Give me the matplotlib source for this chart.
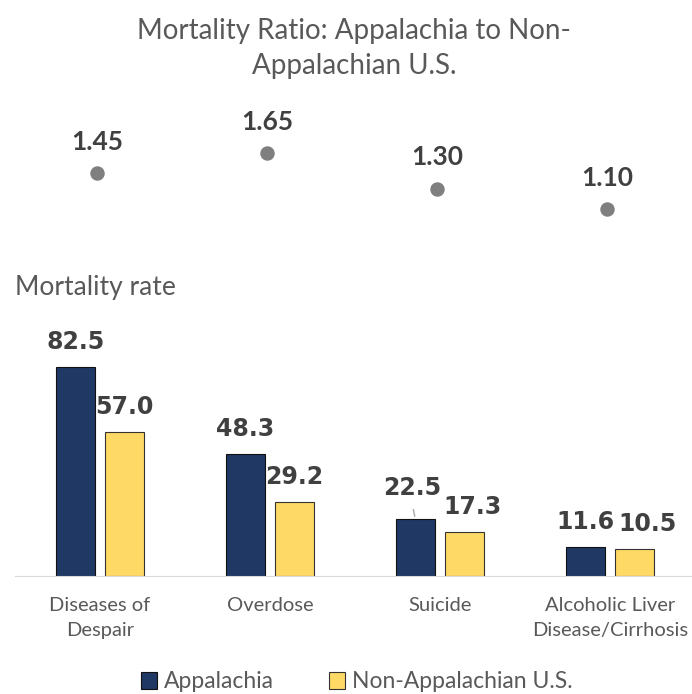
import matplotlib
matplotlib.use("Agg")
import matplotlib.pyplot as plt
import numpy as np

categories = ["Diseases of\nDespair", "Overdose", "Suicide", "Alcoholic Liver\nDisease/Cirrhosis"]
ratio = [1.45, 1.65, 1.30, 1.10]
appalachia = [82.5, 48.3, 22.5, 11.6]
non_appalachia = [57.0, 29.2, 17.3, 10.5]

navy = "#203864"
yellow = "#FFD966"
grey_txt = "#595959"
dark_txt = "#404040"

plt.rcParams["font.family"] = ["Lato", "DejaVu Sans"]

fig = plt.figure(figsize=(6.92, 6.94), dpi=100)
x = np.arange(len(categories))

# ratio dots
ax1 = fig.add_axes([12 / 692, 0.655, 680 / 692, 0.2053])
ax1.scatter(x, ratio, s=88, color="#7F7F7F", zorder=3)
for xi, r in zip(x, ratio):
    ax1.annotate(f"{r:.2f}", (xi, r), xytext=(0, 16.6), textcoords="offset points",
                 ha="center", va="baseline", fontsize=19, fontweight="bold", color=dark_txt)
ax1.set_xlim(-0.5, 3.5)
ax1.set_ylim(0.8, 2.2)
ax1.axis("off")

fig.text(354 / 692, 1 - 39 / 694, "Mortality Ratio: Appalachia to Non-",
         ha="center", va="baseline", fontsize=20, color=grey_txt)
fig.text(354 / 692, 1 - 74 / 694, "Appalachian U.S.",
         ha="center", va="baseline", fontsize=20, color=grey_txt)

# bars
ax2 = fig.add_axes([15 / 692, 1 - 576 / 694, 680 / 692, 253.3 / 694])
w = 0.23
b1 = ax2.bar(x - 0.145, appalachia, w, color=navy, edgecolor="#111111", linewidth=0.8, label="Appalachia")
b2 = ax2.bar(x + 0.145, non_appalachia, w, color=yellow, edgecolor="#333333", linewidth=0.8,
             label="Non-Appalachian U.S.")

# label nudges in points (dx, dy) to mimic manual placement
nudge1 = [(0, 13), (0, 13), (-2, 17), (0, 13)]
nudge2 = [(0, 13), (0, 13), (6, 13), (9, 13)]
for bars, nudges in ((b1, nudge1), (b2, nudge2)):
    for rect, (dx, dy) in zip(bars, nudges):
        h = rect.get_height()
        ax2.annotate(f"{h:.1f}", (rect.get_x() + rect.get_width() / 2, h), xytext=(dx, dy),
                     textcoords="offset points", ha="center", va="baseline",
                     fontsize=17, fontweight="bold", color=dark_txt, family="DejaVu Sans")

# leader line for the suicide label
r = b1[2]
ax2.annotate("", (r.get_x() + r.get_width() / 2, r.get_height()),
             xytext=(r.get_x() + r.get_width() / 2 - 0.015, r.get_height() + 4.8),
             arrowprops=dict(arrowstyle="-", color="#A6A6A6", lw=1))

ax2.set_xlim(-0.5, 3.5)
ax2.set_ylim(0, 100)
for s in ["top", "right", "left"]:
    ax2.spines[s].set_visible(False)
ax2.spines["bottom"].set_color("#D9D9D9")
ax2.set_yticks([])
ax2.set_xticks(x)
ax2.set_xticklabels(categories, fontsize=14.5, color=grey_txt, linespacing=1.6)
ax2.tick_params(axis="x", length=0, pad=15)

fig.text(15 / 692, 1 - 295 / 694, "Mortality rate", ha="left", va="baseline", fontsize=19, color=grey_txt)

fig.legend(handles=[b1, b2], loc="center", bbox_to_anchor=(357 / 692, 1 - 682 / 694), ncol=2,
           frameon=False, fontsize=16.5, labelcolor=grey_txt, handlelength=0.7, handleheight=0.7,
           handletextpad=0.3, columnspacing=2.4)

fig.savefig("out.png", dpi=100)
